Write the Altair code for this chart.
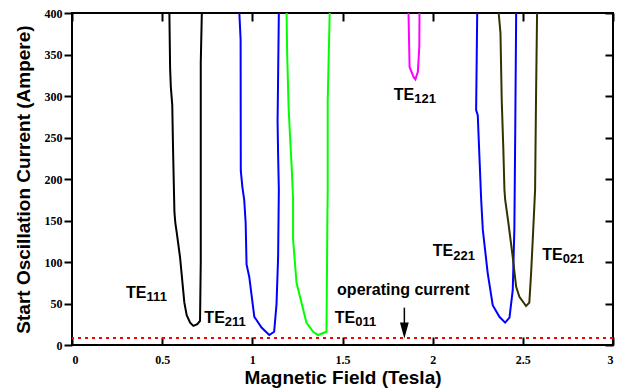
import altair as alt
import pandas as pd

# ---- curve data ----
te111_x = [0.540, 0.544, 0.548, 0.556, 0.560, 0.564, 0.568, 0.573, 0.581, 0.599, 0.623, 0.636, 0.655, 0.673, 0.695, 0.710, 0.714, 0.714, 0.720]
te111_y = [400, 334, 311, 289, 240, 199, 160, 147, 135, 106, 51, 36, 27, 23, 25, 29, 100, 340, 400]

te211_x = [0.928, 0.935, 0.936, 0.945, 0.955, 0.963, 0.968, 0.983, 1.011, 1.051, 1.094, 1.121, 1.134, 1.143, 1.147, 1.143, 1.140, 1.147]
te211_y = [400, 368, 210, 190, 175, 147, 97, 82, 34, 21, 12, 16, 49, 106, 187, 229, 269, 400]

te011_x = [1.190, 1.193, 1.201, 1.208, 1.219, 1.226, 1.226, 1.245, 1.300, 1.337, 1.365, 1.411, 1.413, 1.416, 1.418, 1.418, 1.429]
te011_y = [400, 352, 287, 256, 211, 175, 127, 75, 27, 16, 12, 16, 60, 150, 187, 295, 400]

te121_x = [1.866, 1.872, 1.894, 1.904, 1.918, 1.926, 1.927]
te121_y = [400, 335, 323, 320, 329, 360, 400]

te221_x = [2.247, 2.241, 2.250, 2.269, 2.278, 2.305, 2.333, 2.370, 2.402, 2.426, 2.444, 2.453, 2.458, 2.463]
te221_y = [400, 283, 277, 175, 139, 87, 48, 34, 27, 33, 66, 139, 260, 400]

te021_x = [2.366, 2.376, 2.383, 2.392, 2.398, 2.402, 2.420, 2.444, 2.463, 2.481, 2.518, 2.536, 2.546, 2.555, 2.568, 2.573, 2.579]
te021_y = [400, 376, 295, 235, 187, 175, 147, 106, 70, 58, 47, 51, 87, 127, 187, 295, 400]

series_names = ["TE111", "TE211", "TE011", "TE121", "TE221", "TE021"]
series_colors = ["#000000", "#0000ff", "#00ff00", "#ff00ff", "#0000ff", "#333300"]

# ---- annotations ----
label_main = ["TE", "TE", "TE", "TE", "TE", "TE"]
label_sub = ["111", "211", "011", "121", "221", "021"]
label_x = [0.300, 0.734, 1.457, 1.784, 2.001, 2.607]
label_y = [56.8, 26.7, 26.7, 295.6, 106.9, 103.0]

op_current = [8.3]
op_text = ["operating current"]
op_text_x = [1.470]
op_text_y = [60.8]
arrow_x = [1.843]
arrow_top = [45.0]
arrow_bottom = [24.0]
arrow_head_y = [17.5]

x_tick_values = [0, 0.5, 1, 1.5, 2, 2.5, 3]
y_tick_values = [0, 50, 100, 150, 200, 250, 300, 350, 400]

X_MIN, X_MAX, Y_MIN, Y_MAX = 0.0, 3.0, 0.0, 400.0
W, H = 541, 332
TICK_PX = 8

rows = []
for name, xs, ys in zip(series_names,
                        [te111_x, te211_x, te011_x, te121_x, te221_x, te021_x],
                        [te111_y, te211_y, te011_y, te121_y, te221_y, te021_y]):
    for i, (xv, yv) in enumerate(zip(xs, ys)):
        rows.append({"series": name, "x": xv, "y": yv, "i": i})
curves = pd.DataFrame(rows)

xscale = alt.Scale(domain=[X_MIN, X_MAX], nice=False)
yscale = alt.Scale(domain=[Y_MIN, Y_MAX], nice=False)

LABEL_FONT = "Liberation Serif, Times New Roman, serif"
# grid lines dashed so that only short inward ticks remain at the frame edges
x_axis = alt.Axis(values=x_tick_values, ticks=False, domain=False,
                  grid=True, gridColor="black", gridWidth=2, gridOpacity=1,
                  gridDash=[TICK_PX, H - 2 * TICK_PX, TICK_PX, 2000],
                  labelExpr="datum.value + ''",
                  labelFont=LABEL_FONT, labelFontWeight="bold", labelFontSize=12,
                  labelColor="black", labelPadding=9,
                  title="Magnetic Field (Tesla)", titleFont="Liberation Sans",
                  titleFontSize=19, titleFontWeight="bold", titleColor="black", titlePadding=3)
y_axis = alt.Axis(values=y_tick_values, ticks=True, tickSize=8, tickWidth=2, tickColor="black",
                  domain=False,
                  grid=True, gridColor="black", gridWidth=2, gridOpacity=1,
                  gridDash=[0, W - TICK_PX, TICK_PX, 2000],
                  labelFont=LABEL_FONT, labelFontWeight="bold", labelFontSize=12,
                  labelColor="black", labelPadding=2,
                  title="Start Oscillation Current (Ampere)", titleFont="Liberation Sans",
                  titleFontSize=19, titleFontWeight="bold", titleColor="black", titlePadding=11)

lines = alt.Chart(curves).mark_line(strokeWidth=2).encode(
    x=alt.X("x:Q", scale=xscale, axis=x_axis),
    y=alt.Y("y:Q", scale=yscale, axis=y_axis),
    color=alt.Color("series:N", scale=alt.Scale(domain=series_names, range=series_colors), legend=None),
    detail="series:N",
    order="i:Q",
)

op_df = pd.DataFrame({"y": op_current})
op_line = alt.Chart(op_df).mark_rule(color="#ff0000", strokeWidth=2, strokeDash=[3, 4]).encode(
    y=alt.Y("y:Q", scale=yscale)
)

lab_df = pd.DataFrame({"x": label_x, "y": label_y, "main": label_main, "sub": label_sub})
lab_main = alt.Chart(lab_df).mark_text(align="left", baseline="alphabetic", font="Liberation Sans",
                                       fontSize=16, fontWeight="bold", color="black").encode(
    x=alt.X("x:Q", scale=xscale), y=alt.Y("y:Q", scale=yscale), text="main:N")
lab_sub = alt.Chart(lab_df).mark_text(align="left", baseline="alphabetic", font="Liberation Sans",
                                      fontSize=13, fontWeight="bold", color="black", dx=20.5, dy=3.5).encode(
    x=alt.X("x:Q", scale=xscale), y=alt.Y("y:Q", scale=yscale), text="sub:N")

opt_df = pd.DataFrame({"x": op_text_x, "y": op_text_y, "t": op_text})
op_label = alt.Chart(opt_df).mark_text(align="left", baseline="alphabetic", font="Liberation Sans",
                                       fontSize=16, fontWeight="bold", color="black").encode(
    x=alt.X("x:Q", scale=xscale), y=alt.Y("y:Q", scale=yscale), text="t:N")

arr_df = pd.DataFrame({"ax": arrow_x, "ay": arrow_top, "ay2": arrow_bottom, "ayh": arrow_head_y})
arrow_shaft = alt.Chart(arr_df).mark_rule(color="black", strokeWidth=1.5).encode(
    x=alt.X("ax:Q", scale=xscale), y=alt.Y("ay:Q", scale=yscale), y2="ay2:Q")
arrow_head = alt.Chart(arr_df).mark_point(shape="M-0.55,-1L0.55,-1L0,1Z", size=256, filled=True,
                                          color="black", opacity=1).encode(
    x=alt.X("ax:Q", scale=xscale), y=alt.Y("ayh:Q", scale=yscale))

chart = alt.layer(
    lines, op_line, lab_main, lab_sub, op_label, arrow_shaft, arrow_head
).properties(
    width=W, height=H,
    autosize=alt.AutoSizeParams(type="none"),
    padding={"left": 64, "top": 5, "right": 9, "bottom": 44},
    background="white",
).configure_view(stroke="black", strokeWidth=2)

chart.save("out.html", embed_options={"renderer": "svg", "actions": False})
